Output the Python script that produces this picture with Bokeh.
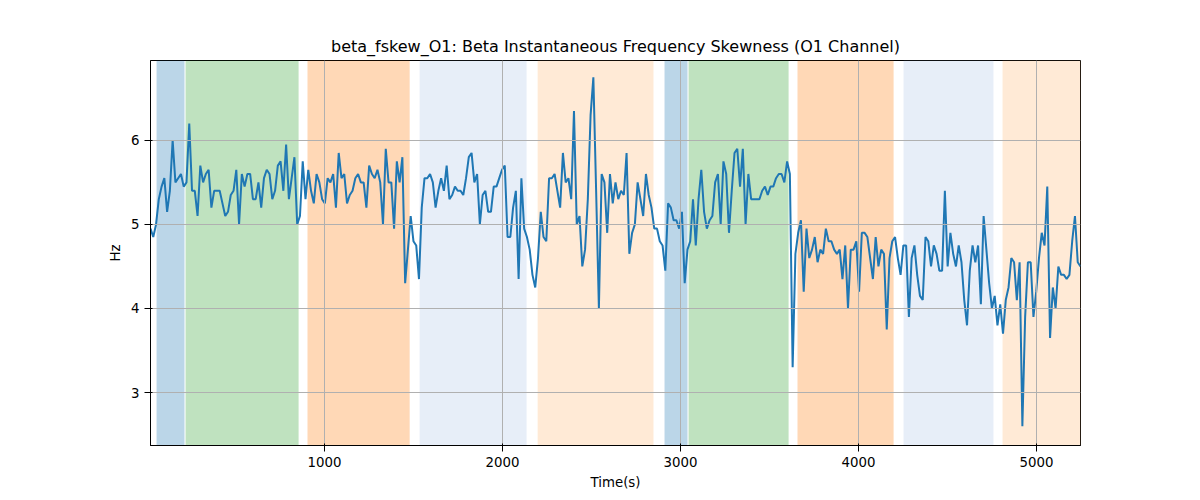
import numpy as np
from bokeh.plotting import figure
from bokeh.models import BoxAnnotation, FixedTicker
from bokeh.embed import file_html
from bokeh.resources import INLINE

values = [4.95,4.85,5.0,5.3,5.45,5.55,5.15,5.4,6.0,5.5,5.55,5.6,5.45,5.5,6.2,5.4,5.4,5.1,5.7,5.5,5.6,5.65,5.2,5.4,5.4,5.4,5.25,5.1,5.15,5.35,5.4,5.65,5.0,5.6,5.45,5.6,5.6,5.3,5.3,5.5,5.2,5.55,5.65,5.6,5.3,5.4,5.7,5.75,5.4,5.95,5.3,5.55,5.8,5.0,
5.1,5.75,5.3,5.65,5.4,5.25,5.6,5.5,5.3,5.25,5.55,5.5,5.6,5.2,5.85,5.55,5.6,5.25,5.35,5.4,5.55,5.6,5.5,5.5,5.2,5.7,5.6,5.55,5.65,5.5,5.0,5.9,5.5,5.5,4.95,5.75,5.5,5.8,
4.3,4.7,5.1,4.8,4.75,4.35,5.2,5.55,5.55,5.6,5.5,5.2,5.4,5.55,5.4,5.7,5.3,5.35,5.45,5.4,5.4,5.35,5.55,5.8,5.85,5.5,5.6,5.0,5.35,5.4,5.15,5.15,5.45,5.45,5.55,5.65,5.7,4.85,4.85,5.2,5.4,4.35,5.55,4.95,4.85,4.7,4.4,4.25,
4.6,5.15,4.85,4.8,5.55,5.55,5.6,5.4,5.2,5.85,5.5,5.55,5.3,6.35,5.0,5.1,4.5,4.7,5.3,6.3,6.75,5.4,4.0,5.6,5.5,4.9,5.6,5.25,5.5,5.3,5.4,5.35,5.85,4.65,4.9,5.0,5.5,5.3,5.1,5.6,5.35,5.2,4.95,4.95,4.8,4.75,4.45,
5.25,5.2,5.05,5.05,4.95,5.15,4.3,4.7,4.8,5.3,4.75,5.3,5.65,5.15,4.95,5.05,5.1,5.5,5.6,5.0,5.75,5.6,4.9,5.4,5.85,5.9,5.45,5.9,5.0,5.6,5.3,5.3,5.3,5.3,5.4,5.45,5.35,5.45,5.45,5.55,5.6,5.6,5.5,5.75,5.6,
3.3,4.65,4.9,5.05,4.2,4.95,4.6,4.7,4.85,4.55,4.7,4.65,4.95,4.8,4.8,4.7,4.65,4.7,4.35,4.75,4.0,4.7,4.7,4.8,4.2,4.9,4.9,4.85,4.6,4.35,4.85,4.5,4.7,4.65,3.75,4.6,4.8,4.85,4.6,4.4,4.75,4.75,
3.9,4.6,4.75,4.4,4.15,4.1,4.85,4.8,4.5,4.75,4.65,4.45,4.45,5.4,4.5,4.9,4.65,4.5,4.75,4.55,4.1,3.8,4.45,4.75,4.55,4.75,4.05,5.1,4.7,4.3,4.0,4.15,3.8,4.05,3.7,4.1,4.25,4.6,4.55,4.1,4.55,2.6,3.9,4.55,4.55,3.9,4.2,4.6,4.9,4.75,5.45,3.65,4.25,4.0,4.5,4.4,4.4,4.35,4.4,4.8,5.1,4.55,4.5]

t_start, t_end = 22, 5247
band_starts = [56, 219, 904, 1534, 2197, 2910, 3045, 3657, 4253, 4809]
band_ends = [213, 854, 1478, 2135, 2848, 3039, 3607, 4197, 4758, 5300]
band_colors = ["#1f77b4", "#2ca02c", "#ff7f0e", "#aec7e8", "#ffbb78",
               "#1f77b4", "#2ca02c", "#ff7f0e", "#aec7e8", "#ffbb78"]

times = np.linspace(t_start, t_end, len(values))

p = figure(width=1200, height=492, output_backend="svg", toolbar_location=None,
           x_range=(t_start, t_end), y_range=(2.37, 6.95),
           title="beta_fskew_O1: Beta Instantaneous Frequency Skewness (O1 Channel)",
           x_axis_label="Time(s)", y_axis_label="Hz")
p.min_border_left = 150
p.min_border_right = 120
p.min_border_top = 60
p.min_border_bottom = 47
p.title.align = "center"
p.title.text_font = "DejaVu Sans"
p.title.text_font_size = "12pt"
p.title.text_font_style = "normal"
p.title.text_color = "black"
for s, e, c in zip(band_starts, band_ends, band_colors):
    p.add_layout(BoxAnnotation(left=s, right=e, fill_color=c, fill_alpha=0.3,
                               line_alpha=0, level="underlay"))
p.grid.level = "glyph"
p.line(times, values, line_color="#1f77b4", line_width=2)
p.xaxis.ticker = FixedTicker(ticks=[1000, 2000, 3000, 4000, 5000])
p.yaxis.ticker = FixedTicker(ticks=[3, 4, 5, 6])
for ax in (p.xaxis, p.yaxis):
    ax.axis_label_text_font = "DejaVu Sans"
    ax.axis_label_text_font_style = "normal"
    ax.axis_label_text_font_size = "10pt"
    ax.axis_label_text_color = "black"
    ax.major_label_text_font = "DejaVu Sans"
    ax.major_label_text_font_size = "10pt"
    ax.major_label_text_color = "black"
    ax.axis_line_color = "black"
    ax.major_tick_line_color = "black"
    ax.minor_tick_line_color = None
p.grid.grid_line_color = "#b0b0b0"
p.grid.grid_line_alpha = 1
p.outline_line_color = "black"
p.background_fill_color = "white"

open("out.html", "w").write(file_html(p, INLINE))
